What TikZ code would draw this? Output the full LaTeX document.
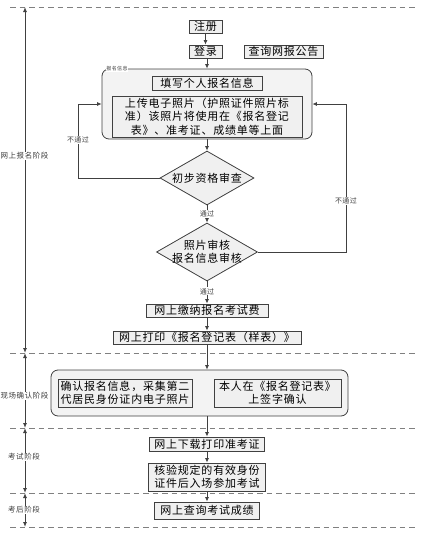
\documentclass[tikz,border=0pt]{standalone}
\usepackage{fontspec}
\setmainfont{Noto Sans CJK SC}[LetterSpace=7]
\usetikzlibrary{shapes.geometric,arrows.meta}
\definecolor{linec}{HTML}{404040}
\definecolor{boxfill}{HTML}{F0F0F0}
\definecolor{grpfill}{HTML}{F3F3F3}
\tikzset{
  mainfont/.style={font=\fontsize{11}{13.5}\selectfont},
  pbox/.style={draw=linec, fill=boxfill, line width=0.9pt, inner sep=0pt, align=center, mainfont},
  grp/.style={draw=linec, fill=grpfill, line width=0.8pt, rounded corners=7pt, inner sep=0pt},
  dia/.style={diamond, draw=linec, fill=boxfill, line width=0.8pt, inner sep=0pt},
  arr/.style={draw=linec, line width=0.8pt, -{Latex[length=4.5pt,width=4pt]}},
  small/.style={font=\fontsize{7}{8}\selectfont, fill=white, inner sep=0.8pt, text=linec},
  stage/.style={font=\fontsize{7.5}{8}\selectfont, fill=white, inner sep=0.8pt, text=linec},
  dline/.style={draw=gray, line width=1pt, dash pattern=on 5.5pt off 4pt},
  axis/.style={draw=linec, line width=0.9pt, {Latex[length=5pt,width=4pt]}-{Latex[length=5pt,width=4pt]}}
}
\begin{document}
\begin{tikzpicture}[x=1pt,y=-1pt]
\useasboundingbox (0,0) rectangle (438,546);
% stage separators
\foreach \yy in {7,353,428,493,527} \draw[dline] (10,\yy) -- (416,\yy);
\coordinate (s0) at (25,7);
\coordinate (s1) at (25,353);
\coordinate (s2) at (25,428);
\coordinate (s3) at (25,493);
\coordinate (s4) at (25,527);
\draw[axis] (s0) -- (s1);
\draw[axis] (s1) -- (s2);
\draw[axis] (s2) -- (s3);
\draw[axis] (s3) -- (s4);
\node[stage] (st1) at (24.5,156) {网上报名阶段};
\node[stage] (st2) at (24.5,396) {现场确认阶段};
\node[stage] (st3) at (24,457) {考试阶段};
\node[stage] (st4) at (24,510) {考后阶段};

% nodes
\node[pbox, minimum width=33pt, minimum height=13pt] (reg) at (205.5,26.5) {注册};
\node[pbox, minimum width=33pt, minimum height=13pt] (login) at (205.5,51.5) {登录};
\node[pbox, minimum width=79pt, minimum height=13pt] (query) at (283.5,51.5) {查询网报公告};
\node[grp, minimum width=210pt, minimum height=70pt] (group1) at (207,104) {};
\node[font=\fontsize{5}{6}\selectfont, fill=white, inner sep=0.6pt, text=linec] (g1lab) at (117,69) {报名信息};
\node[pbox, minimum width=110pt, minimum height=14pt] (fill) at (207,83) {填写个人报名信息};
\node[pbox, minimum width=190pt, minimum height=41pt] (upload) at (207,116.5) {上传电子照片（护照证件照片标\\准）该照片将使用在《报名登记\\表》、准考证、成绩单等上面};
\node[dia, minimum width=94pt, minimum height=54pt, label={[mainfont]center:初步资格审查}] (d1) at (207,178) {};
\node[dia, minimum width=101pt, minimum height=58pt, label={[mainfont,align=center]center:照片审核\\报名信息审核}] (d2) at (207,252) {};
\node[pbox, minimum width=122pt, minimum height=13pt] (pay) at (207,310.5) {网上缴纳报名考试费};
\node[pbox, minimum width=188pt, minimum height=13pt] (print) at (207,337.5) {网上打印《报名登记表（样表）》};
\node[grp, minimum width=297pt, minimum height=46pt] (group2) at (199.5,393) {};
\node[pbox, minimum width=134pt, minimum height=28pt] (confirm) at (125,393) {确认报名信息，采集第二\\代居民身份证内电子照片};
\node[pbox, minimum width=127pt, minimum height=28pt] (sign) at (277.5,393) {本人在《报名登记表》\\上签字确认};
\node[pbox, minimum width=115pt, minimum height=14pt] (admit) at (207,444) {网上下载打印准考证};
\node[pbox, minimum width=117pt, minimum height=28pt] (verify) at (207,477) {核验规定的有效身份\\证件后入场参加考试};
\node[pbox, minimum width=105pt, minimum height=17pt] (score) at (207,510.5) {网上查询考试成绩};

% connectors
\draw[arr] (reg) -- (login);
\draw[arr] (login.south -| group1.north) -- (group1.north);
\draw[arr] (group1) -- (d1);
\coordinate (lft) at (78,178);
\coordinate (rgt) at (346,252);
\draw[arr] (d1.west) -- (lft) |- (group1.west);
\node[small] (nl) at (78,140) {不通过};
\draw[arr] (d2.east) -- (rgt) |- (group1.east);
\node[small] (nr) at (346,201) {不通过};
\draw[arr] (d1) -- (d2) node[small, midway] {通过};
\draw[arr] (d2.south) -- (pay.north) node[small, pos=0.45] {通过};
\draw[arr] (pay) -- (print);
\draw[arr] (print.south) -- (print.south |- group2.north);
\draw[arr] (group2.south -| admit.north) -- (admit.north);
\draw[arr] (admit) -- (verify);
\draw[arr] (verify) -- (score);
\end{tikzpicture}
\end{document}
